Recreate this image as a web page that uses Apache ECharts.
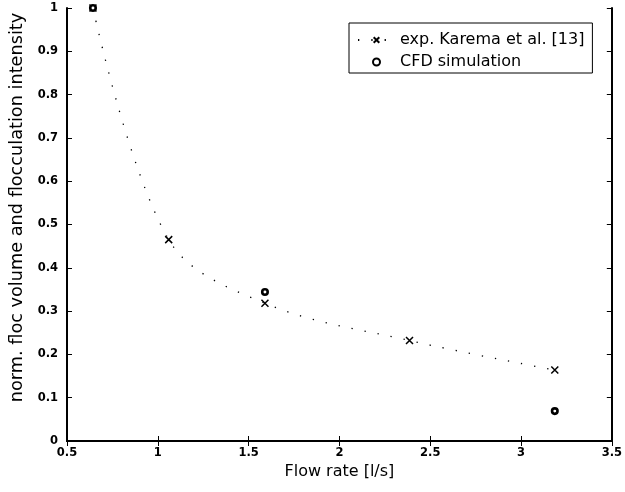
<!DOCTYPE html>
<html>
<head>
<meta charset="utf-8">
<script src="https://cdn.jsdelivr.net/npm/echarts@6/dist/echarts.min.js"></script>
<style>html,body{margin:0;padding:0;background:#fff;}#c{width:625px;height:492px;}</style>
</head>
<body>
<div id="c"></div>
<script>
// Data
var flowExp = [0.643, 1.06, 1.59, 2.386, 3.186];
var valExp = [1.0, 0.465, 0.318, 0.232, 0.164];
var flowCfd = [0.643, 1.59, 3.186];
var valCfd = [1.0, 0.344, 0.069];
var xTicks = [0.5, 1, 1.5, 2, 2.5, 3, 3.5];
var yTicks = [0, 0.1, 0.2, 0.3, 0.4, 0.5, 0.6, 0.7, 0.8, 0.9, 1];
var seriesNames = ['exp. Karema et al. [13]', 'CFD simulation'];

var FONT = 'DejaVu Sans';
function pairs(xs, ys) { return xs.map(function (x, i) { return [x, ys[i]]; }); }

var axisCommon = {
  type: 'value',
  axisLine: { show: true, lineStyle: { color: '#000', width: 2 } },
  axisTick: { show: true, inside: true, length: 5, lineStyle: { color: '#000', width: 1 } },
  splitLine: { show: false }
};

var chart = echarts.init(document.getElementById('c'), null, { renderer: 'canvas' });
chart.setOption({
  backgroundColor: '#fff',
  animation: false,
  grid: { left: 67, right: 9, top: 8, bottom: 51, containLabel: false },
  xAxis: [
    Object.assign({}, axisCommon, {
      min: xTicks[0], max: xTicks[xTicks.length - 1], interval: 0.5, position: 'bottom',
      name: 'Flow rate [l/s]', nameLocation: 'middle', nameGap: 23,
      nameTextStyle: { fontFamily: FONT, fontSize: 16, color: '#000' },
      axisLabel: { fontFamily: FONT, fontSize: 11.5, fontWeight: 'bold', color: '#000', margin: 6 }
    }),
    Object.assign({}, axisCommon, {
      min: xTicks[0], max: xTicks[xTicks.length - 1], interval: 0.5, position: 'top',
      axisLabel: { show: false }
    })
  ],
  yAxis: [
    Object.assign({}, axisCommon, {
      min: yTicks[0], max: yTicks[yTicks.length - 1], interval: 0.1, position: 'left',
      name: 'norm. floc volume and flocculation intensity', nameLocation: 'middle', nameGap: 41,
      nameTextStyle: { fontFamily: FONT, fontSize: 17.7, color: '#000', padding: [0, 0, 0, 34] },
      axisLabel: { fontFamily: FONT, fontSize: 11.5, fontWeight: 'bold', color: '#000', margin: 9 }
    }),
    Object.assign({}, axisCommon, {
      min: yTicks[0], max: yTicks[yTicks.length - 1], interval: 0.1, position: 'right',
      axisLabel: { show: false }
    })
  ],
  legend: {
    orient: 'vertical', left: 349, top: 23,
    backgroundColor: '#fff', borderColor: '#000', borderWidth: 1,
    padding: [8, 8, 2, 8], itemGap: 4, itemWidth: 37, itemHeight: 7,
    textStyle: { fontFamily: FONT, fontSize: 16, color: '#000', lineHeight: 18 },
    data: seriesNames
  },
  series: [
    {
      name: seriesNames[0], type: 'line', data: pairs(flowExp, valExp),
      smooth: 0.35, showAllSymbol: true,
      symbol: 'path://M0,0L10,10M0,10L10,0', symbolSize: 7,
      itemStyle: { color: '#000', borderColor: '#000', borderWidth: 1.5 },
      lineStyle: { color: '#000', width: 1.3, type: [1.3, 12] },
      z: 3
    },
    {
      name: seriesNames[1], type: 'scatter', data: pairs(flowCfd, valCfd),
      symbol: 'circle', symbolSize: 5.5,
      itemStyle: { color: '#fff', borderColor: '#000', borderWidth: 2.6, opacity: 1 },
      z: 4
    }
  ]
});
</script>
</body>
</html>
